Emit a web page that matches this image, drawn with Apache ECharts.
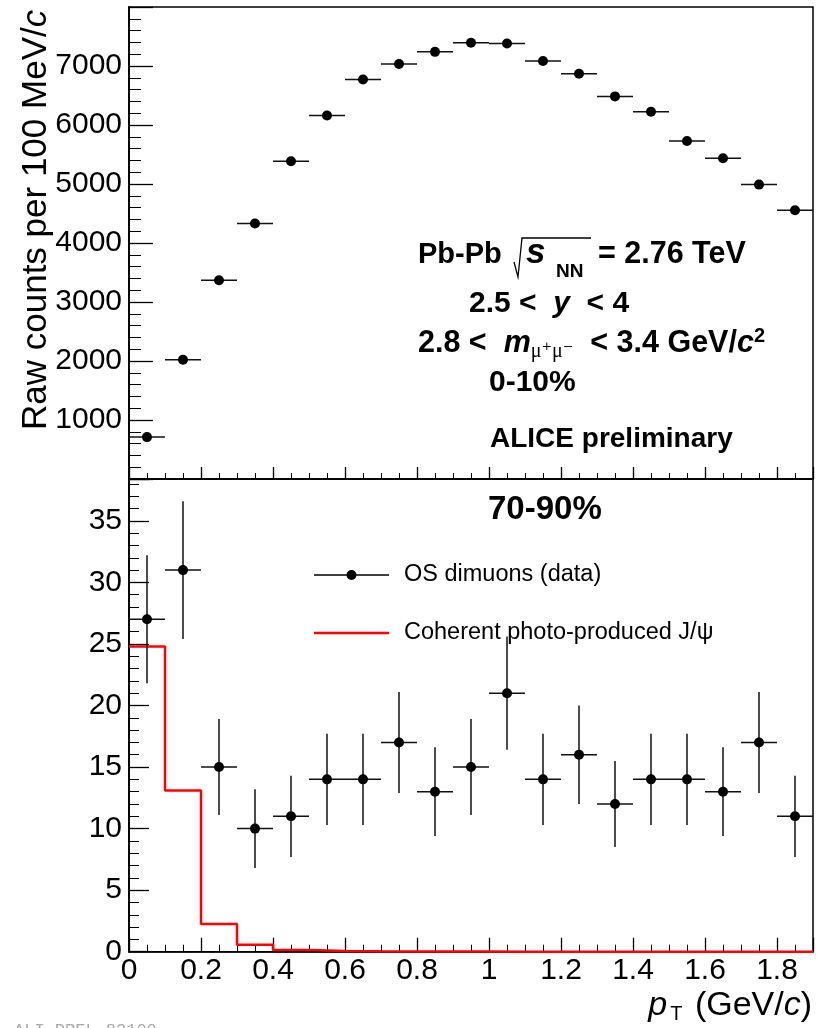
<!DOCTYPE html>
<html>
<head>
<meta charset="utf-8">
<script src="https://cdn.jsdelivr.net/npm/echarts@6/dist/echarts.min.js"></script>
<style>
html,body{margin:0;padding:0;background:#fff;}
#chart{width:821px;height:1028px;}
</style>
</head>
<body>
<div id="chart"></div>
<script>
// ---------------- data ----------------
const ptCenters = [0.05,0.15,0.25,0.35,0.45,0.55,0.65,0.75,0.85,0.95,1.05,1.15,1.25,1.35,1.45,1.55,1.65,1.75,1.85];
const ptHalfBin = 0.05;
// 0-10% centrality: raw counts per 100 MeV/c
const centralCounts = [710,2020,3370,4330,5385,6160,6770,7035,7240,7395,7380,7085,6870,6485,6225,5730,5435,4990,4555];
// 70-90% centrality: OS dimuons (data)
const periphCounts = [27,31,15,10,11,14,14,17,13,15,21,14,16,12,14,14,13,17,11];
const periphErrors = [5.2,5.6,3.9,3.2,3.3,3.7,3.7,4.1,3.6,3.9,4.6,3.7,4.0,3.5,3.7,3.7,3.6,4.1,3.3];
// coherent photo-produced J/psi template (histogram, bin low edges)
const coherentEdges = [0,0.1,0.2,0.3,0.4,0.5,0.6,0.7,0.8,0.9,1.0,1.1,1.2,1.3,1.4,1.5,1.6,1.7,1.8,1.9];
const coherentCounts = [24.8,13.1,2.25,0.57,0.14,0.05,0.03,0.02,0.01,0.01,0,0,0,0,0,0,0,0,0];
// axis ranges
const xRange = [0, 1.9];
const topYRange = [0, 8000];
const botYRange = [0, 38.4];

// ---------------- helpers ----------------
const FONT = '"Liberation Sans", Arial, Helvetica, sans-serif';
const SERIF = '"Liberation Serif", "DejaVu Serif", serif';

function errorBarItem(params, api) {
  const x = api.value(0), y = api.value(1), ey = api.value(2), ex = api.value(3);
  const c = api.coord([x, y]);
  const l = api.coord([x - ex, y]), r = api.coord([x + ex, y]);
  const children = [{type:'line', shape:{x1:l[0], y1:l[1], x2:r[0], y2:r[1]}, style:{stroke:'#111', lineWidth:1.5}}];
  if (ey > 0) {
    const t = api.coord([x, y + ey]), b = api.coord([x, y - ey]);
    children.push({type:'line', shape:{x1:t[0], y1:t[1], x2:b[0], y2:b[1]}, style:{stroke:'#111', lineWidth:1.5}});
  }
  children.push({type:'circle', shape:{cx:c[0], cy:c[1], r:5}, style:{fill:'#000'}});
  return {type:'group', children};
}

const topData = ptCenters.map((x, i) => [x, centralCounts[i], 0, ptHalfBin]);
const botData = ptCenters.map((x, i) => [x, periphCounts[i], periphErrors[i], ptHalfBin]);
const stepData = coherentEdges.map((e, i) => [e, coherentCounts[Math.min(i, coherentCounts.length - 1)]]);

function fmtX(v) {
  if (Math.abs(v - xRange[1]) < 1e-6) return '';
  return String(Math.round(v * 10) / 10);
}

function majorX(grid, showLabel, len) {
  return {type:'value', gridIndex:grid, position:'bottom', min:xRange[0], max:xRange[1], interval:0.2,
    axisLine:{show:true, onZero:false, lineStyle:{color:'#000', width:1.5}},
    axisTick:{show:true, inside:true, length:len, lineStyle:{color:'#000', width:1.3}},
    axisLabel:{show:showLabel, margin:4, fontSize:30, color:'#000', fontFamily:FONT, formatter:fmtX},
    splitLine:{show:false}};
}
function minorX(grid, len) {
  return {type:'value', gridIndex:grid, position:'bottom', offset:0, min:xRange[0], max:xRange[1], interval:0.05,
    axisLine:{show:false}, axisLabel:{show:false}, splitLine:{show:false},
    axisTick:{show:true, inside:true, length:len, lineStyle:{color:'#000', width:1}}};
}
function majorY(grid, range, interval, len, fmt) {
  return {type:'value', gridIndex:grid, position:'left', min:range[0], max:range[1], interval:interval,
    axisLine:{show:true, onZero:false, lineStyle:{color:'#000', width:1.8}},
    axisTick:{show:true, inside:true, length:len, lineStyle:{color:'#000', width:1.3}},
    axisLabel:{show:true, margin:7, fontSize:30, color:'#000', fontFamily:FONT, formatter:fmt},
    splitLine:{show:false}};
}
function minorY(grid, range, interval, len) {
  return {type:'value', gridIndex:grid, position:'left', offset:0, min:range[0], max:range[1], interval:interval,
    axisLine:{show:false}, axisLabel:{show:false}, splitLine:{show:false},
    axisTick:{show:true, inside:true, length:len, lineStyle:{color:'#000', width:1}}};
}

function txt(x, y, text, size, opts) {
  return {type:'text', x:x, y:y, silent:true, z:100,
    style:Object.assign({text:text, fontSize:size, fontFamily:FONT, fontWeight:'bold', fill:'#000',
      textAlign:'left', textVerticalAlign:'middle'}, opts || {})};
}

const dataIcon = 'path://M0,4.75 L75,4.75 L75,6.25 L0,6.25 Z M32.5,5.5 A5,5 0 1 1 42.5,5.5 A5,5 0 1 1 32.5,5.5 Z';
const redIcon = 'path://M0,0 L75,0 L75,2.5 L0,2.5 Z';

const option = {
  animation:false,
  backgroundColor:'#fff',
  grid:[
    {left:129, top:7, width:684, height:472, show:true, borderColor:'#000', borderWidth:1.5, backgroundColor:'transparent'},
    {left:129, top:479, width:684, height:472.7, show:true, borderColor:'#000', borderWidth:1.5, backgroundColor:'transparent'}
  ],
  xAxis:[ majorX(0, false, 12), minorX(0, 6), majorX(1, true, 14), minorX(1, 7) ],
  yAxis:[
    majorY(0, topYRange, 1000, 24, v => (v <= topYRange[0] || v >= topYRange[1]) ? '' : String(v)),
    minorY(0, topYRange, 200, 12),
    majorY(1, botYRange, 5, 20, v => (Math.abs(v % 5) < 1e-6) ? String(v) : ''),
    minorY(1, botYRange, 1, 10)
  ],
  legend:[
    {data:[{name:'OS dimuons (data)', icon:dataIcon, itemStyle:{color:'#000', borderWidth:0}}],
     left:314, top:563, padding:0, itemWidth:75, itemHeight:11, selectedMode:false,
     textStyle:{fontSize:23.5, color:'#000', fontFamily:FONT, padding:[0,0,0,10]}},
    {data:[{name:'Coherent photo-produced J/ψ', icon:redIcon, itemStyle:{color:'#ff0000', borderWidth:0}}],
     left:314, top:621, padding:0, itemWidth:75, itemHeight:2.5, selectedMode:false,
     textStyle:{fontSize:23.5, color:'#000', fontFamily:FONT, padding:[0,0,0,10]}}
  ],
  series:[
    {type:'custom', name:'0-10%', xAxisIndex:0, yAxisIndex:0, data:topData, renderItem:errorBarItem,
     encode:{x:0, y:1}, itemStyle:{color:'#000'}, z:5},
    {type:'custom', name:'OS dimuons (data)', xAxisIndex:2, yAxisIndex:2, data:botData, renderItem:errorBarItem,
     encode:{x:0, y:1}, itemStyle:{color:'#000'}, z:6},
    {type:'line', name:'Coherent photo-produced J/ψ', xAxisIndex:2, yAxisIndex:2, data:stepData, step:'end',
     symbol:'none', color:'#ff0000', lineStyle:{color:'#ff0000', width:2.5}, itemStyle:{color:'#ff0000'}, z:4}
  ],
  graphic:[
    // y title
    {type:'text', x:36, y:430, rotation:Math.PI/2, silent:true,
     style:{text:'Raw counts per 100 MeV/{i|c}', fontSize:35, fontFamily:FONT, fill:'#000', textAlign:'left', textVerticalAlign:'middle',
       rich:{i:{fontSize:35, fontStyle:'italic', fontFamily:FONT, fill:'#000'}}}},
    // x title
    {type:'text', x:812, y:1006, silent:true,
     style:{text:'{i|p}{s|T}{n| (GeV/}{i|c}{n|)}', textAlign:'right', textVerticalAlign:'middle', fontFamily:FONT, fontSize:34, fill:'#000',
       rich:{i:{fontSize:34, fontStyle:'italic', fontFamily:FONT, lineHeight:36},
             n:{fontSize:34, fontFamily:FONT, lineHeight:36},
             s:{fontSize:20, fontFamily:FONT, lineHeight:20, verticalAlign:'bottom', padding:[0,3,0,3]}}}},
    // text block (0-10%)
    txt(418, 255, 'Pb-Pb', 29),
    {type:'polyline', silent:true, z:100, shape:{points:[[514,262],[518,277],[522,238],[591,238]]}, style:{stroke:'#000', lineWidth:1.3, fill:null}},
    txt(526, 253, 's', 35, {fontStyle:'italic'}),
    txt(556, 272, 'NN', 19),
    txt(598, 255, '= 2.76 TeV', 30.5),
    txt(469, 304, '2.5 <  {i|y}  < 4', 30, {rich:{i:{fontSize:30, fontWeight:'bold', fontStyle:'italic', fontFamily:FONT}}}),
    txt(418, 344, '2.8 <  {i|m}{s|μ⁺μ⁻}  < 3.4 GeV/{i|c}{p|2}', 30.5, {rich:{
      i:{fontSize:30.5, fontWeight:'bold', fontStyle:'italic', fontFamily:FONT, lineHeight:36},
      s:{fontSize:20, fontWeight:'normal', fontFamily:SERIF, lineHeight:20, verticalAlign:'bottom'},
      p:{fontSize:20, fontWeight:'bold', fontFamily:FONT, lineHeight:20, verticalAlign:'top'}}}),
    txt(489, 383, '0-10%', 30),
    txt(490, 439, 'ALICE preliminary', 28),
    txt(488, 510, '70-90%', 33),
    // watermark
    {type:'text', x:14, y:1022, silent:true,
     style:{text:'ALI-PREL-83100', fontSize:17, fontFamily:'"Liberation Mono", "DejaVu Sans Mono", monospace', fill:'#aaaaaa', textAlign:'left', textVerticalAlign:'top'}}
  ]
};

const chart = echarts.init(document.getElementById('chart'), null, {renderer:'canvas'});
chart.setOption(option);
</script>
</body>
</html>
